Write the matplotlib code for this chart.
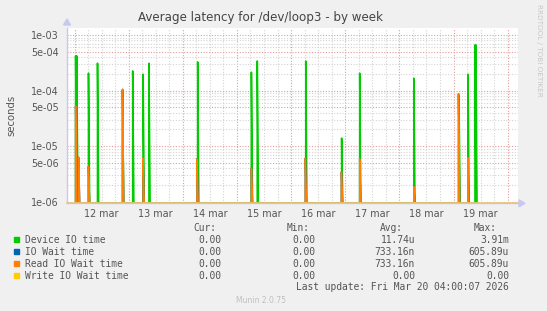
import matplotlib
matplotlib.use("Agg")
import matplotlib.pyplot as plt
import numpy as np
from matplotlib.ticker import FixedLocator, NullFormatter

# ---- data (hours since 12 mar 00:00) ----
device_hours = [0.5, 1.0, 6.2, 10.2, 21.3, 25.8, 30.4, 33.0, 54.6, 78.4, 81.0, 102.5, 118.4, 126.4, 150.4, 170.4, 174.4, 177.5, 177.9]
device_vals = [4.2e-4, 4.2e-4, 2.05e-4, 3.1e-4, 1.0e-4, 2.25e-4, 1.96e-4, 3.1e-4, 3.27e-4, 2.13e-4, 3.4e-4, 3.4e-4, 1.39e-5, 2.05e-4, 1.66e-4, 8.0e-5, 1.96e-4, 6.6e-4, 6.6e-4]
read_hours = [0.5, 1.8, 6.2, 21.3, 30.4, 54.3, 78.4, 102.3, 118.3, 126.4, 150.4, 170.2, 174.3]
read_vals = [5.3e-5, 6.3e-6, 4.3e-6, 1.05e-4, 6.05e-6, 5.9e-6, 4.0e-6, 6.05e-6, 3.4e-6, 5.9e-6, 1.87e-6, 8.7e-5, 6.3e-6]

day_labels = ["12 mar", "13 mar", "14 mar", "15 mar", "16 mar", "17 mar", "18 mar", "19 mar"]
ytick_vals = [1e-6, 5e-6, 1e-5, 5e-5, 1e-4, 5e-4, 1e-3]
ytick_labels = ["1e-06", "5e-06", "1e-05", "5e-05", "1e-04", "5e-04", "1e-03"]

legend_names = ["Device IO time", "IO Wait time", "Read IO Wait time", "Write IO Wait time"]
legend_colors = ["#00CC00", "#0066B3", "#FF8000", "#FFCC00"]
cur_vals = ["0.00", "0.00", "0.00", "0.00"]
min_vals = ["0.00", "0.00", "0.00", "0.00"]
avg_vals = ["11.74u", "733.16n", "733.16n", "0.00"]
max_vals = ["3.91m", "605.89u", "605.89u", "0.00"]

# ---- figure ----
W, H = 547, 311
fig = plt.figure(figsize=(W / 100, H / 100), dpi=100)
fig.patch.set_facecolor("#f0f0f0")

x0, x1 = 67, 517.5
y_top, y_bot = 27.5, 203.3
ax = fig.add_axes([x0 / W, 1 - y_bot / H, (x1 - x0) / W, (y_bot - y_top) / H])
ax.set_facecolor("white")

px_per_day = 54.15
day0_px = 74.5
xmin = (x0 - day0_px) / px_per_day * 24
xmax = (x1 - day0_px) / px_per_day * 24
ymin, ymax = 0.936e-6, 1.364e-3
ax.set_yscale("log")
ax.set_xlim(xmin, xmax)
ax.set_ylim(ymin, ymax)

# grid
for d in range(0, 9):
    for q in range(1, 4):
        xm = d * 24 + q * 6
        if xmin < xm < xmax:
            ax.axvline(xm, color="#d4d4d4", lw=0.8, ls=(0, (1, 1.5)), zorder=1)
    if xmin < d * 24 < xmax:
        ax.axvline(d * 24, color="#e69c9c", lw=0.8, ls=(0, (1, 1.5)), zorder=1)
for e in range(-6, -2):
    for m in range(1, 10):
        v = m * 10.0 ** e
        if ymin < v < ymax:
            if m in (1, 5):
                ax.axhline(v, color="#e69c9c", lw=0.8, ls=(0, (1, 1.5)), zorder=1)
            else:
                ax.axhline(v, color="#d4d4d4", lw=0.8, ls=(0, (1, 1.5)), zorder=1)

# spikes
def spike_series(hours, vals, dt=0.5):
    xs, ys = [], []
    for h, v in zip(hours, vals):
        xs += [h, h, h + dt]
        ys += [ymin, v, ymin]
    return xs, ys

dx, dy = spike_series(device_hours, device_vals)
ax.plot(dx, dy, color="#00CC00", lw=1.2, zorder=3)
rx, ry = spike_series(read_hours, read_vals)
ax.plot(rx, ry, color="#0066B3", lw=1.1, zorder=4)
ax.plot(rx, ry, color="#FF8000", lw=1.1, zorder=5)
ax.axhline(ymin, color="#e6c878", lw=1.2, zorder=6, clip_on=False)

# ticks
ax.xaxis.set_major_locator(FixedLocator([d * 24 + 12 for d in range(8)]))
ax.set_xticklabels(day_labels)
ax.xaxis.set_minor_locator(FixedLocator([]))
ax.yaxis.set_major_locator(FixedLocator(ytick_vals))
ax.set_yticklabels(ytick_labels)
ax.yaxis.set_minor_locator(FixedLocator([]))
ax.yaxis.set_minor_formatter(NullFormatter())
ax.tick_params(axis="both", labelsize=6.9, colors="#555555", length=0, pad=4)
ax.tick_params(axis="y", pad=6)

for s in ["top", "right"]:
    ax.spines[s].set_visible(False)
ax.spines["left"].set_color("#c8c8e8")
ax.spines["bottom"].set_color("#c8c8e8")
ax.spines["left"].set_linewidth(1.0)
ax.spines["bottom"].set_linewidth(1.0)

# axis arrows
fig.patches.append(plt.Polygon([[(x0 - 3.5) / W, 1 - 25 / H], [(x0 + 3.5) / W, 1 - 25 / H], [x0 / W, 1 - 19 / H]],
                               closed=True, transform=fig.transFigure, color="#c8c8f0"))
fig.patches.append(plt.Polygon([[519 / W, 1 - 199.8 / H], [519 / W, 1 - 206.8 / H], [525 / W, 1 - 203.3 / H]],
                               closed=True, transform=fig.transFigure, color="#c8c8f0"))

# title and labels
fig.text(261 / W, 1 - 18 / H, "Average latency for /dev/loop3 - by week", ha="center", va="center",
         fontsize=8.6, color="#444444")
fig.text(11 / W, 1 - 115 / H, "seconds", rotation=90, ha="center", va="center", fontsize=7.3, color="#555555")
fig.text(539 / W, 1 - 4 / H, "RRDTOOL / TOBI OETIKER", rotation=270, ha="center", va="top",
         fontsize=5.2, color="#c8c8c8")

# legend
mono = "DejaVu Sans Mono"
fs = 6.9
hdr_y = 228.3
rows_y = [239.7, 251.7, 263.7, 275.7]
for txt, xr in zip(["Cur:", "Min:", "Avg:", "Max:"], [216, 309.3, 403.3, 497]):
    fig.text(xr / W, 1 - hdr_y / H, txt, ha="right", va="center", fontsize=fs, family=mono, color="#555555")
for i in range(4):
    yy = 1 - rows_y[i] / H
    fig.patches.append(plt.Rectangle(((13.5) / W, 1 - (rows_y[i] + 2.7) / H), 5.5 / W, 5.5 / H,
                                     transform=fig.transFigure, color=legend_colors[i]))
    fig.text(25 / W, yy, legend_names[i], ha="left", va="center", fontsize=fs, family=mono, color="#555555")
    fig.text(221.7 / W, yy, cur_vals[i], ha="right", va="center", fontsize=fs, family=mono, color="#555555")
    fig.text(315 / W, yy, min_vals[i], ha="right", va="center", fontsize=fs, family=mono, color="#555555")
    fig.text(415 / W, yy, avg_vals[i], ha="right", va="center", fontsize=fs, family=mono, color="#555555")
    fig.text(509 / W, yy, max_vals[i], ha="right", va="center", fontsize=fs, family=mono, color="#555555")
fig.text(509 / W, 1 - 287.3 / H, "Last update: Fri Mar 20 04:00:07 2026", ha="right", va="center",
         fontsize=fs, family=mono, color="#555555")
fig.text(261 / W, 1 - 300.3 / H, "Munin 2.0.75", ha="center", va="center", fontsize=5.5, color="#c0c0c0")

fig.savefig("out.png", dpi=100, facecolor=fig.get_facecolor())
